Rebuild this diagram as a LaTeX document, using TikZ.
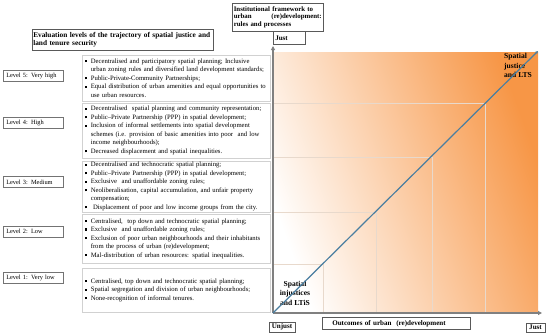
\documentclass[tikz,border=0pt]{standalone}
\usepackage{fontspec}
\setmainfont{Liberation Serif}
\usetikzlibrary{arrows.meta}
\definecolor{orng}{HTML}{F79646}
\definecolor{diagc}{HTML}{4A7EA0}
\definecolor{gridc}{HTML}{E8D9CC}
\newcommand{\bul}{\makebox[6bp][l]{\rule[1bp]{2.1bp}{2.1bp}}}
\newcommand{\ind}{\hspace*{6bp}}
\newcommand{\nohyph}{\hyphenpenalty=10000\relax}
\begin{document}
\begin{tikzpicture}[x=1bp,y=-1bp,
  lvl/.style={draw=black!55, line width=0.5bp, minimum width=60bp, minimum height=11bp,
    inner xsep=3bp, inner ysep=0pt, anchor=west, text width=54bp, align=left,
    font=\fontsize{6.4}{7}\selectfont},
  cbox/.style={draw=black!18, line width=0.6bp, inner xsep=2.5bp, inner ysep=0.5bp, anchor=west,
    text width=183bp, align=left, font=\fontsize{6.7}{8.55}\selectfont\nohyph},
  bbox/.style={draw=black!65, line width=0.5bp, inner xsep=1.5bp, inner ysep=1bp,
    font=\fontsize{7.1}{8.6}\selectfont\bfseries},
  axis/.style={draw=black!50, line width=1.8bp, -{Triangle[length=4bp,width=4bp]}},
  gridl/.style={draw=gridc, line width=0.5bp},
  corner/.style={font=\fontsize{7.6}{9.6}\selectfont\bfseries, inner sep=0pt}
]
\useasboundingbox (0,0) rectangle (550,334);
% plot area
\fill[left color=white, right color=orng, shading angle=110] (273,52) rectangle (538,313);
\draw[gridl] (273,103) -- (485,103) (273,157) -- (432,157) (273,212) -- (376,212) (273,264) -- (323,264);
\draw[gridl] (485,103) -- (485,313) (432,157) -- (432,313) (376,212) -- (376,313) (323,264) -- (323,313);
% titles
\node[bbox, anchor=north west, text width=179bp, minimum height=21bp, inner xsep=1bp, align=left,
  font=\fontsize{7.35}{8.8}\selectfont\bfseries] (title) at (32,29)
  {Evaluation levels of the trajectory of spatial justice and\\land tenure security};
\node[bbox, anchor=north west, text width=88bp, minimum height=28bp, align=left,
  font=\fontsize{6.9}{7.7}\selectfont\bfseries] (inst) at (232,3)
  {Institutional framework to\\urban\hfill(re)development:\\rules and processes};
\node[bbox, anchor=north west, minimum width=32bp, minimum height=13bp, text width=28bp, align=left] (justy) at (273,31) {Just};
% level labels
\node[lvl] (l5) at (3,75.5) {Level 5: Very high};
\node[lvl] (l4) at (3,122.5) {Level 4: High};
\node[lvl] (l3) at (3,182) {Level 3: Medium};
\node[lvl] (l2) at (3,231.5) {Level 2: Low};
\node[lvl] (l1) at (3,277.5) {Level 1: Very low};
% content boxes
\node[cbox, minimum height=46bp] (c5) at (82,78) {%
\bul Decentralised and participatory spatial planning; Inclusive\\
\ind urban zoning rules and diversified land development standards;\\
\bul Public-Private-Community Partnerships;\\
\bul Equal distribution of urban amenities and equal opportunities to\\
\ind use urban resources.};
\node[cbox, minimum height=55bp] (c4) at (82,130.5) {%
\bul Decentralised\ \ spatial planning and community representation;\\
\bul Public--Private Partnership (PPP) in spatial development;\\
\bul Inclusion of informal settlements into spatial development\\
\ind schemes (i.e. provision of basic amenities into poor\ \ and low\\
\ind income neighbourhoods);\\
\bul Decreased displacement and spatial inequalities.};
\node[cbox, minimum height=51bp] (c3) at (82,186.5) {%
\bul Decentralised and technocratic spatial planning;\\
\bul Public--Private Partnership (PPP) in spatial development;\\
\bul Exclusive\ \ and unaffordable zoning rules;\\
\bul Neoliberalisation, capital accumulation, and unfair property\\
\ind compensation;\\
\bul\ Displacement of poor and low income groups from the city.};
\node[cbox, minimum height=49bp] (c2) at (82,238.5) {%
\bul Centralised,\ \ top down and technocratic spatial planning;\\
\bul Exclusive\ \ and unaffordable zoning rules;\\
\bul Exclusion of poor urban neighbourhoods and their inhabitants\\
\ind from the process of urban (re)development;\\
\bul Mal-distribution of urban resources: spatial inequalities.};
\node[cbox, minimum height=44bp] (c1) at (82,290) {%
\bul Centralised, top down and technocratic spatial planning;\\
\bul Spatial segregation and division of urban neighbourhoods;\\
\bul None-recognition of informal tenures.};
% axes
\coordinate (O) at (273,313);
\coordinate (ytop) at (273,46);
\coordinate (xend) at (542,313);
\coordinate (D) at (538,51);
\draw[axis] (O) -- (ytop);
\draw[axis] (O) -- (xend);
% corner labels
\node[corner, anchor=north west, align=left] (sj) at (504,53) {Spatial\\justice\\and LTS};
\node[corner, align=center] (si) at (295,293) {Spatial\\injustices\\and LTiS};
\draw[diagc, line width=1.2bp, -{Stealth[length=3bp,width=3bp]}] (O) -- (D);
% bottom labels
\node[bbox, minimum width=26bp, minimum height=10bp, inner sep=0.8bp] (unjust) at (282,327) {Unjust};
\node[bbox, anchor=west, minimum width=148bp, minimum height=12bp, text width=138bp, inner xsep=5bp, align=left] (outc) at (322,323.5) {\hspace*{5bp}Outcomes of urban\ \ (re)development};
\node[bbox, minimum width=19bp, minimum height=9bp, inner sep=0.8bp] (justx) at (535.5,327.5) {Just};
\end{tikzpicture}
\end{document}
